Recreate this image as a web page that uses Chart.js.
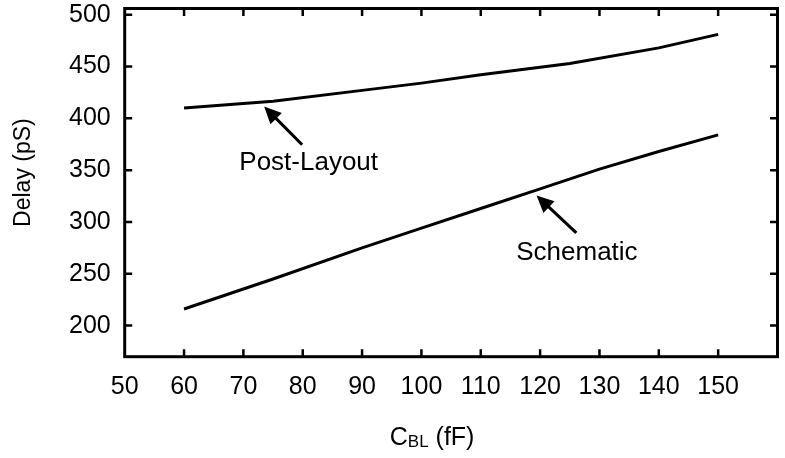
<!DOCTYPE html>
<html>
<head>
<meta charset="utf-8">
<script src="https://cdn.jsdelivr.net/npm/chart.js@4.4.1/dist/chart.umd.min.js"></script>
<style>
  html, body { margin: 0; padding: 0; background: #fff; }
  #wrap { position: relative; width: 785px; height: 458px; }
</style>
</head>
<body>
<div id="wrap"><canvas id="chart"></canvas></div>
<script>
// Bit-line capacitance (fF) and access delay (pS)
const postLayoutC = [60, 75, 90, 100, 110, 125, 140, 150];
const postLayoutDelay = [410, 416.5, 427, 434, 442, 453, 468, 481];
const schematicC = [60, 75, 90, 100, 110, 120, 130, 140, 150];
const schematicDelay = [216, 245, 275, 294, 313, 332, 351, 368, 384];

// Axis ranges and tick steps
const X_MIN = 50, X_MAX = 160, X_STEP = 10, X_LAST_LABEL = 150;
const Y_MIN = 170, Y_MAX = 506, Y_STEP = 50;

// Callout labels with arrows, given in data units
const callouts = [
  { text: 'Post-Layout', label: [81, 357], tail: [79.9, 374.5], tip: [73.5, 411.5] },
  { text: 'Schematic',  label: [126.2, 270.5], tail: [126.1, 289.5], tip: [119.4, 325.5] }
];

const FONT = '"Liberation Sans", Arial, Helvetica, sans-serif';

function toXY(chart, p) {
  return [chart.scales.x.getPixelForValue(p[0]), chart.scales.y.getPixelForValue(p[1])];
}

function noEdgePadding(s) {
  s.paddingTop = 0; s.paddingBottom = 0; s.paddingLeft = 0; s.paddingRight = 0;
}

const framePlugin = {
  id: 'frame',
  afterDatasetsDraw(chart) {
    const { ctx, chartArea: a, scales: { x, y } } = chart;
    ctx.save();
    ctx.strokeStyle = '#000';
    ctx.fillStyle = '#000';

    // inward tick marks on all four sides
    const TL = 7.5;
    ctx.lineWidth = 2.5;
    ctx.lineCap = 'butt';
    ctx.beginPath();
    x.ticks.forEach(t => {
      if (t.value <= X_MIN || t.value >= X_MAX) return;
      const px = x.getPixelForValue(t.value);
      ctx.moveTo(px, a.bottom); ctx.lineTo(px, a.bottom - TL);
      ctx.moveTo(px, a.top); ctx.lineTo(px, a.top + TL);
    });
    y.ticks.forEach(t => {
      const py = y.getPixelForValue(t.value);
      ctx.moveTo(a.left, py); ctx.lineTo(a.left + TL, py);
      ctx.moveTo(a.right, py); ctx.lineTo(a.right - TL, py);
    });
    ctx.stroke();

    // plot frame
    ctx.lineWidth = 3;
    ctx.strokeRect(a.left, a.top, a.right - a.left, a.bottom - a.top);

    // callout arrows and labels
    callouts.forEach(c => {
      const [tx, ty] = toXY(chart, c.tail);
      const [hx, hy] = toXY(chart, c.tip);
      const ang = Math.atan2(hy - ty, hx - tx);
      const HL = 17, HW = 8;
      const bx = hx - HL * Math.cos(ang), by = hy - HL * Math.sin(ang);
      ctx.lineWidth = 3;
      ctx.beginPath();
      ctx.moveTo(tx, ty);
      ctx.lineTo(bx + 3 * Math.cos(ang), by + 3 * Math.sin(ang));
      ctx.stroke();
      ctx.beginPath();
      ctx.moveTo(hx, hy);
      ctx.lineTo(bx + HW * Math.sin(ang), by - HW * Math.cos(ang));
      ctx.lineTo(bx - HW * Math.sin(ang), by + HW * Math.cos(ang));
      ctx.closePath();
      ctx.fill();

      const [lx, ly] = toXY(chart, c.label);
      ctx.font = '26px ' + FONT;
      ctx.textAlign = 'center';
      ctx.textBaseline = 'middle';
      ctx.fillText(c.text, lx, ly);
    });

    // x-axis title with subscript: C_BL (fF)
    const mainFont = '25px ' + FONT, subFont = '17px ' + FONT;
    ctx.textBaseline = 'alphabetic';
    ctx.textAlign = 'left';
    ctx.font = mainFont; const wC = ctx.measureText('C').width;
    const wTail = ctx.measureText(' (fF)').width;
    ctx.font = subFont; const wBL = ctx.measureText('BL').width;
    const total = wC + wBL + wTail;
    const cx = (a.left + a.right) / 2 - 19;
    const base = a.bottom + 88.5;
    let px = cx - total / 2;
    ctx.font = mainFont; ctx.fillText('C', px, base); px += wC;
    ctx.font = subFont; ctx.fillText('BL', px, base + 2); px += wBL;
    ctx.font = mainFont; ctx.fillText(' (fF)', px, base);

    // y-axis title
    ctx.save();
    ctx.translate(24, (a.top + a.bottom) / 2 - 10);
    ctx.rotate(-Math.PI / 2);
    ctx.font = '23px ' + FONT;
    ctx.textAlign = 'center';
    ctx.textBaseline = 'middle';
    ctx.fillText('Delay (pS)', 0, 0);
    ctx.restore();

    ctx.restore();
  }
};

new Chart(document.getElementById('chart'), {
  type: 'line',
  data: {
    datasets: [
      {
        label: 'Post-Layout',
        data: postLayoutC.map((c, i) => ({ x: c, y: postLayoutDelay[i] })),
        borderColor: '#000', borderWidth: 3, pointRadius: 0, tension: 0, fill: false
      },
      {
        label: 'Schematic',
        data: schematicC.map((c, i) => ({ x: c, y: schematicDelay[i] })),
        borderColor: '#000', borderWidth: 3, pointRadius: 0, tension: 0, fill: false
      }
    ]
  },
  options: {
    responsive: true,
    maintainAspectRatio: false,
    animation: false,
    events: [],
    layout: { padding: { top: 8.5, right: 7.5, bottom: 0, left: 0 } },
    plugins: { legend: { display: false }, tooltip: { enabled: false }, title: { display: false } },
    scales: {
      x: {
        type: 'linear',
        min: X_MIN, max: X_MAX,
        grid: { display: false, drawTicks: false },
        border: { display: false },
        afterFit(s) { s.height = 101.3; noEdgePadding(s); },
        ticks: {
          stepSize: X_STEP,
          autoSkip: false,
          maxRotation: 0,
          padding: 15,
          color: '#000',
          font: { family: FONT, size: 25 },
          callback: v => (v > X_LAST_LABEL ? '' : String(v))
        }
      },
      y: {
        type: 'linear',
        min: Y_MIN, max: Y_MAX,
        grid: { display: false, drawTicks: false },
        border: { display: false },
        afterFit(s) { s.width = 124.7; noEdgePadding(s); },
        ticks: {
          stepSize: Y_STEP,
          includeBounds: false,
          padding: 14,
          color: '#000',
          font: { family: FONT, size: 25 }
        }
      }
    }
  },
  plugins: [framePlugin]
});
</script>
</body>
</html>
